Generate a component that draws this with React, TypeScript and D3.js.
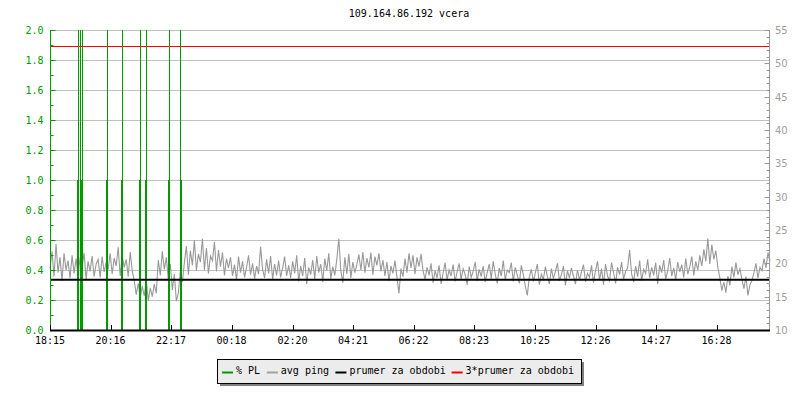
import React from "react";
import * as d3 from "d3";

// ---- data ----
const title = "109.164.86.192 vcera";
// minutes from 18:15 (start of period) for x tick labels
const xTickMinutes = [0, 121, 242, 363, 485, 606, 727, 848, 970, 1091, 1212, 1333];
const xTickLabels = ["18:15", "20:16", "22:17", "00:18", "02:20", "04:21", "06:22", "08:23", "10:25", "12:26", "14:27", "16:28"];
const leftTicks = [0, 0.2, 0.4, 0.6, 0.8, 1.0, 1.2, 1.4, 1.6, 1.8, 2.0];
const rightTicks = [10, 15, 20, 25, 30, 35, 40, 45, 50, 55];

// packet loss (%) events: minute offset and value
const plMinutes = [54, 56, 60, 62, 64, 112, 114, 142, 144, 178, 180, 190, 192, 236, 238, 260, 262];
const plValues = [1, 3, 3, 1, 3, 1, 3, 1, 3, 1, 3, 1, 3, 1, 3, 3, 1];

// avg ping (ms), evenly sampled across the 24 h period (one value per 4 minutes)
const pingValues = [
  19.2, 21.8, 18.0, 22.9, 18.6, 20.9, 17.4, 21.5, 19.0, 20.4, 17.8, 21.2, 18.5, 20.7,
  18.2, 20.9, 19.3, 21.6, 17.6, 20.3, 18.8, 21.1, 18.0, 19.9, 20.6, 17.9, 21.0, 18.7, 20.2,
  19.1, 21.5, 18.4, 20.8, 19.6, 22.4, 18.1, 21.2, 19.4, 20.6, 18.0, 21.7, 18.9,
  17.4, 15.3, 17.0, 14.8, 16.6, 15.1, 17.5, 14.4, 16.3, 15.0, 16.9, 15.5,
  20.5, 18.2, 21.8, 19.1, 20.9,
  17.6, 19.9, 16.0, 18.4, 14.3, 15.6, 18.8, 17.2,
  20.1, 22.6, 18.3, 21.9, 19.7, 23.5, 18.9, 21.4, 20.2, 23.7, 19.0, 22.3, 18.5, 21.1, 20.4, 23.2, 18.8, 22.0, 19.5, 21.6, 18.2, 20.7, 19.3,
  20.9, 18.1, 19.8, 17.5, 21.0, 18.6, 20.3, 17.9, 19.4, 21.2, 18.3, 20.0, 17.7, 19.6, 18.4, 22.5, 19.1, 17.8, 20.6, 18.5, 21.1, 17.6, 19.9, 18.2, 20.4, 17.9, 19.3, 21.0, 18.1, 19.7,
  17.8, 20.3, 18.5, 21.2, 17.3, 19.6, 18.1, 20.8, 16.9, 19.4, 18.3, 20.5, 17.6, 21.1, 18.6, 19.9, 17.2, 20.7, 18.9, 21.5, 17.7, 19.5,
  18.2, 20.6, 23.7, 18.9, 17.1, 20.9, 18.4, 21.4, 17.8, 20.2, 18.6, 19.8,
  21.3, 19.0, 21.7, 18.6, 20.8, 19.4, 21.6, 18.3, 21.0, 19.7, 21.5, 18.8, 20.5,
  18.1, 20.2, 17.4, 19.6, 18.5, 20.4, 17.9, 15.5, 19.2, 18.0,
  20.7, 18.6, 21.5, 19.3, 21.2, 18.4, 20.9, 19.5, 21.4, 18.9,
  17.6, 19.4, 18.2, 20.0, 17.1, 18.9, 17.8, 19.7, 16.9, 18.5, 20.1, 17.5, 19.0, 18.1, 19.8, 17.3, 18.7, 20.0,
  17.6, 19.2, 18.3, 16.8, 19.5, 17.9, 18.8, 20.2, 17.4, 19.1, 18.0, 19.6, 17.2, 18.6, 19.9, 17.7, 20.3, 18.4,
  17.0, 19.3, 18.1, 20.4, 17.5, 19.0, 18.6, 20.1, 17.3, 19.4, 18.2, 17.0, 19.7, 18.3, 16.6, 15.2, 18.0,
  19.1, 17.3, 18.6, 19.9, 16.8, 18.4, 17.6, 19.5, 18.0, 16.9, 19.2, 17.7, 18.8, 20.0, 17.4,
  18.3, 19.6, 16.7, 18.9, 17.8, 19.3, 18.1, 16.9, 19.0, 17.5, 18.7, 19.8, 17.2, 18.5, 17.9,
  19.7, 17.1, 18.9, 20.3, 17.5, 19.2, 16.8, 19.9, 18.1, 17.4, 20.1, 18.6, 17.0, 19.4, 18.3, 20.2, 17.6, 18.8,
  19.3, 22.0, 18.4, 17.2,
  19.6, 18.0, 20.4, 17.4, 19.1, 18.5, 20.6, 17.8, 19.4, 18.2, 20.1, 16.9, 19.7, 18.6, 20.5, 17.6,
  18.9, 20.8, 18.1, 19.3, 17.5, 20.2, 18.7, 19.8, 17.9, 20.7, 18.4, 19.5, 21.0, 18.2, 20.3, 19.0, 21.2,
  19.6, 22.1, 20.3, 23.7, 19.9, 22.8, 20.6, 21.9, 19.4,
  17.8, 15.9, 17.2, 15.6, 18.1, 16.7,
  19.5, 17.9, 20.1, 18.3, 19.2, 17.6,
  16.2, 18.0, 15.2, 16.8, 17.4,
  18.6, 20.0, 17.8, 19.4, 18.9, 20.7, 19.3, 21.6, 20.4,
];
const periodAverage = 17.55; // "prumer za obdobi" (ms)

const legendItems = [
  { label: "% PL", color: "#009a00" },
  { label: "avg ping", color: "#a0a0a0" },
  { label: "prumer za obdobi", color: "#000000" },
  { label: "3*prumer za obdobi", color: "#ff0000" },
];

const GREEN = "#009a00";
const GRAY = "#999999";
const RED = "#ff0000";
const GRID = "#c0c0c0";
const MONO = "'DejaVu Sans Mono', monospace";

export default function App() {
  const W = 800, H = 400;
  const x = d3.scaleLinear().domain([0, 1440]).range([50, 770]);
  const yL = d3.scaleLinear().domain([0, 2]).range([330, 30]);
  const yR = d3.scaleLinear().domain([10, 55]).range([330, 30]);

  const n = pingValues.length;
  const pingData = pingValues.map((v, i) => ({ t: (i * 1440) / (n - 1), v }));
  const pingLine = d3
    .line<{ t: number; v: number }>()
    .x((d) => x(d.t))
    .y((d) => yR(d.v))(pingData) as string;

  const minorL = yL.ticks(20);
  const minorR = yR.ticks(45);
  const x0 = 50, x1 = 769.5;

  // legend layout
  const charW = 5.95;
  let cx = 222;
  const legendLayout = legendItems.map((it) => {
    const sw = cx;
    const tx = cx + 14;
    cx = tx + it.label.length * charW + 7;
    return { ...it, sw, tx };
  });

  return (
    <svg
      width={W}
      height={H}
      style={{ position: "absolute", left: 0, top: 0, background: "#fff" }}
    >
      <rect x={0} y={0} width={W} height={H} fill="#fff" />
      {/* title */}
      <text x={409} y={17} textAnchor="middle" fontFamily={MONO} fontSize={10} fill="#000">
        {title}
      </text>

      {/* grid */}
      {leftTicks.map((v) => (
        <line key={"g" + v} x1={x0} x2={x1} y1={Math.round(yL(v)) + 0.5} y2={Math.round(yL(v)) + 0.5} stroke={GRID} strokeWidth={1} />
      ))}

      {/* avg ping */}
      <path d={pingLine} fill="none" stroke={GRAY} strokeWidth={1.1} />

      {/* packet loss impulses */}
      {plMinutes.map((m, i) => {
        const px = Math.round(x(m)) + 0.5;
        return (
          <line key={"pl" + i} x1={px} x2={px} y1={yL(0)} y2={yL(Math.min(plValues[i], 2))} stroke={GREEN} strokeWidth={1} />
        );
      })}

      {/* period average and 3x */}
      <line x1={x0} x2={x1} y1={yR(periodAverage)} y2={yR(periodAverage)} stroke="#000" strokeWidth={2} />
      <line x1={x0} x2={x1} y1={Math.round(yR(periodAverage * 3)) + 0.5} y2={Math.round(yR(periodAverage * 3)) + 0.5} stroke={RED} strokeWidth={1} />

      {/* left axis */}
      <line x1={50.5} x2={50.5} y1={30} y2={331} stroke={GREEN} strokeWidth={1} />
      {minorL.map((v) => (
        <line key={"ml" + v} x1={50} x2={53.5} y1={Math.round(yL(v)) + 0.5} y2={Math.round(yL(v)) + 0.5} stroke={GREEN} />
      ))}
      {leftTicks.map((v) => (
        <g key={"l" + v}>
          <line x1={50} x2={55.5} y1={Math.round(yL(v)) + 0.5} y2={Math.round(yL(v)) + 0.5} stroke={GREEN} />
          <text x={43.5} y={yL(v) + 3.6} textAnchor="end" fontFamily={MONO} fontSize={10} fill={GREEN}>
            {v.toFixed(1)}
          </text>
        </g>
      ))}

      {/* right axis */}
      <line x1={769.5} x2={769.5} y1={30} y2={331} stroke={GRAY} strokeWidth={1} />
      {minorR.map((v) => (
        <line key={"mr" + v} x1={766.5} x2={770} y1={Math.round(yR(v)) + 0.5} y2={Math.round(yR(v)) + 0.5} stroke={GRAY} />
      ))}
      {rightTicks.map((v) => (
        <g key={"r" + v}>
          <line x1={764.5} x2={770} y1={Math.round(yR(v)) + 0.5} y2={Math.round(yR(v)) + 0.5} stroke={GRAY} />
          <text x={775} y={yR(v) + 4} textAnchor="start" fontFamily="'DejaVu Sans', sans-serif" fontSize={10} fill="#a0a0a0">
            {v}
          </text>
        </g>
      ))}

      {/* x axis */}
      <line x1={50} x2={770} y1={330.5} y2={330.5} stroke="#000" strokeWidth={2} />
      {xTickMinutes.map((m, i) => {
        const px = Math.round(x(m)) + 0.5;
        return (
          <g key={"x" + m}>
            <line x1={px} x2={px} y1={325} y2={330} stroke="#000" />
            <text x={x(m)} y={344} textAnchor="middle" fontFamily={MONO} fontSize={10} fill="#000">
              {xTickLabels[i]}
            </text>
          </g>
        );
      })}

      {/* legend */}
      <rect x={220} y={362} width={364} height={24} fill="#808080" />
      <rect x={217.5} y={359.5} width={364} height={24} fill="#ececec" stroke="#000" strokeWidth={1} />
      {legendLayout.map((it) => (
        <g key={it.label}>
          <line x1={it.sw} x2={it.sw + 11} y1={372.5} y2={372.5} stroke={it.color} strokeWidth={2} />
          <text x={it.tx} y={374} fontFamily={MONO} fontSize={10} fill="#000">
            {it.label}
          </text>
        </g>
      ))}
    </svg>
  );
}
